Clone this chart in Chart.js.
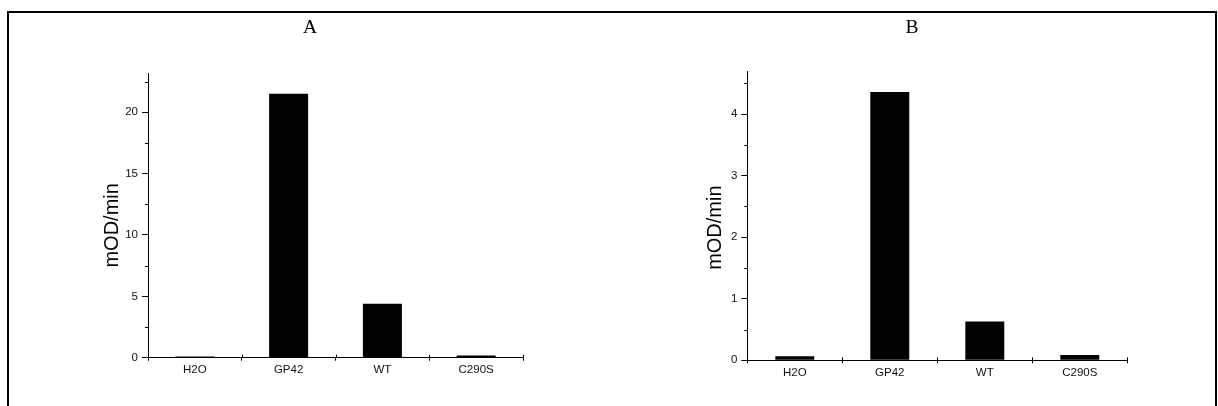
<!DOCTYPE html>
<html>
<head>
<meta charset="utf-8">
<script src="https://cdn.jsdelivr.net/npm/chart.js@4/dist/chart.umd.min.js"></script>
<style>
  html, body { margin: 0; padding: 0; background: #fff; width: 1218px; height: 406px; overflow: hidden; }
  #frame { position: absolute; left: 7px; top: 11px; width: 1206px; height: 420px; border: 2px solid #000; border-bottom: none; }
  canvas { position: absolute; top: 0; }
  #cA { left: 0px; }
  #cB { left: 606px; }
</style>
</head>
<body>
<div id="frame"></div>
<canvas id="cA" width="620" height="406"></canvas>
<canvas id="cB" width="612" height="406"></canvas>
<script>
// ---- data ----
const categories = ['H2O', 'GP42', 'WT', 'C290S'];
const valuesA = [0.1, 21.5, 4.4, 0.17];
const valuesB = [0.065, 4.36, 0.63, 0.085];
const yTicksA = [0, 5, 10, 15, 20];
const yMinorA = [2.5, 7.5, 12.5, 17.5, 22.5];
const yTicksB = [0, 1, 2, 3, 4];
const yMinorB = [0.5, 1.5, 2.5, 3.5, 4.5];
const yMaxA = 23.2;
const yMaxB = 4.7;
const panelTitles = ['A', 'B'];
const yTitle = 'mOD/min';

const tickFont = { family: 'Liberation Sans, Arial, sans-serif', size: 11.5 };

const extraPlugin = {
  id: 'extra',
  afterDraw(chart, args, opts) {
    const ctx = chart.ctx;
    const y = chart.scales.y, x = chart.scales.x;
    ctx.save();
    ctx.strokeStyle = '#000';
    ctx.lineWidth = 1;
    // minor y ticks
    opts.minor.forEach(v => {
      const py = Math.round(y.getPixelForValue(v)) + 0.5;
      ctx.beginPath();
      ctx.moveTo(chart.chartArea.left - 3, py);
      ctx.lineTo(chart.chartArea.left, py);
      ctx.stroke();
    });
    // x ticks crossing above the axis at category boundaries
    const step = x.getPixelForValue(1) - x.getPixelForValue(0);
    const by = chart.chartArea.bottom;
    for (let i = 0; i <= categories.length; i++) {
      const px = Math.round(x.getPixelForValue(0) - step / 2 + i * step) + 0.5;
      ctx.beginPath();
      ctx.moveTo(px, by - 3);
      ctx.lineTo(px, by);
      ctx.stroke();
    }
    // y axis title
    ctx.fillStyle = '#000';
    ctx.font = '20px "Liberation Sans", Arial, sans-serif';
    ctx.textAlign = 'center';
    ctx.textBaseline = 'middle';
    ctx.translate(chart.chartArea.left - opts.titleDx, (chart.chartArea.top + chart.chartArea.bottom) / 2 + opts.titleDy);
    ctx.rotate(-Math.PI / 2);
    ctx.fillText(yTitle, 0, 0);
    ctx.restore();
  }
};

function makeChart(id, title, values, yTicks, yMinor, yMax, p) {
  return new Chart(document.getElementById(id), {
    type: 'bar',
    data: {
      labels: categories,
      datasets: [{
        data: values,
        backgroundColor: '#000',
        borderWidth: 0,
        barPercentage: p.barPct,
        categoryPercentage: 1
      }]
    },
    options: {
      responsive: false,
      animation: false,
      devicePixelRatio: 1,
      layout: { padding: { left: p.padL, right: p.padR, top: 0, bottom: p.padB } },
      plugins: {
        legend: { display: false },
        tooltip: { enabled: false },
        title: {
          display: true,
          text: title,
          color: '#000',
          font: { family: 'Liberation Serif, Times New Roman, serif', size: 19.5, weight: 'normal', lineHeight: 1.2 },
          padding: { top: 16.3, bottom: p.titleBottom }
        },
        extra: { minor: yMinor, titleDx: p.titleDx, titleDy: p.titleDy }
      },
      scales: {
        x: {
          offset: true,
          grid: { display: true, offset: true, drawOnChartArea: false, drawTicks: true, tickLength: 3, color: '#000', lineWidth: 1 },
          border: { display: true, color: '#000', width: 1 },
          ticks: { color: '#111', font: tickFont, padding: p.xPad, maxRotation: 0, autoSkip: false },
          afterFit: s => { s.height = 20; }
        },
        y: {
          min: 0,
          max: yMax,
          afterBuildTicks: s => { s.ticks = yTicks.map(v => ({ value: v })); },
          grid: { display: true, drawOnChartArea: false, drawTicks: true, tickLength: 6, color: '#000', lineWidth: 1 },
          border: { display: true, color: '#000', width: 1 },
          ticks: { color: '#111', font: tickFont, padding: 4 },
          afterFit: s => { s.width = p.yW; }
        }
      }
    },
    plugins: [extraPlugin]
  });
}

makeChart('cA', panelTitles[0], valuesA, yTicksA, yMinorA, yMaxA,
  { barPct: 0.416, padL: 97, padR: 97, padB: 28.3, yW: 51, titleBottom: 33.3, xPad: 2, titleDx: 36, titleDy: 10 });
makeChart('cB', panelTitles[1], valuesB, yTicksB, yMinorB, yMaxB,
  { barPct: 0.41, padL: 90.7, padR: 90.7, padB: 25.7, yW: 50.6, titleBottom: 31.3, xPad: 3, titleDx: 31.5, titleDy: 12 });
</script>
</body>
</html>
